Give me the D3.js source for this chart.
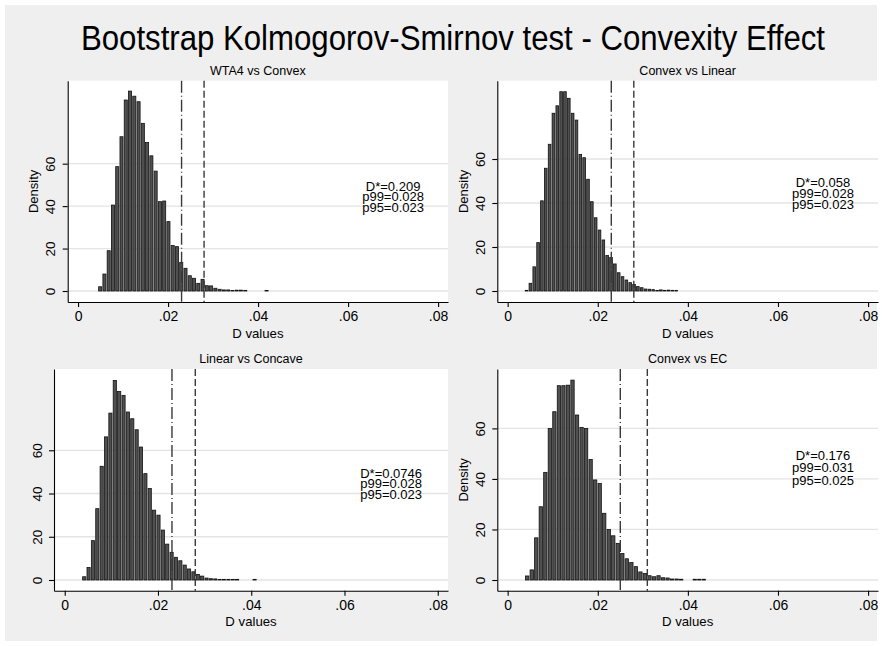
<!DOCTYPE html>
<html>
<head>
<meta charset="utf-8">
<script src="https://cdn.jsdelivr.net/npm/d3@7"></script>
<style>
  body { margin: 0; background: #fff; }
  svg { display: block; font-family: "Liberation Sans", Arial, Helvetica, sans-serif; }
</style>
</head>
<body>
<svg id="mysvg" width="882" height="646"></svg>
<script>
// chart values
const mainTitle = "Bootstrap Kolmogorov-Smirnov test - Convexity Effect";
const panelTitles = ["WTA4 vs Convex", "Convex vs Linear", "Linear vs Concave", "Convex vs EC"];

// histogram bins: left edge of the first bin, bin width, density per bin (40 bins)
const binStart = [0.00444, 0.00377, 0.00371, 0.00384];
const binWidth = [0.000948, 0.000852, 0.000937, 0.001005];

const densWTA4Convex = [2.0, 8.0, 19.0, 40.5, 58.6, 72.7, 90.0, 94.2, 91.8, 89.2,
  79.0, 70.0, 63.7, 56.5, 42.1, 42.4, 32.7, 21.4, 20.9, 13.5,
  10.7, 7.2, 6.0, 3.6, 5.5, 2.5, 2.4, 1.3, 0.8, 0.5,
  0.5, 0.2, 0.4, 0.4, 0.3, 0, 0, 0, 0, 0.2];
const densConvexLinear = [0.3, 3.5, 11, 22, 41, 55.8, 66.7, 80.8, 84.2, 90.6,
  90.6, 87.6, 80.8, 77.7, 62.1, 60.6, 50.8, 40.6, 33.3, 27.7,
  23.2, 16.1, 15.2, 12.3, 8.3, 6.5, 5.0, 3.8, 3.0, 2.0,
  1.5, 0.9, 0.8, 0.6, 0.2, 0.5, 0.3, 0.4, 0.3, 0.3];
const densLinearConcave = [1.5, 5.8, 18.2, 33, 52.6, 66.2, 77.2, 92.3, 87.2, 85.4,
  77.7, 74.6, 69.5, 61.5, 49.2, 42.3, 32.3, 30, 23.1, 16.6,
  12.8, 10.5, 8.9, 6.9, 5.1, 3.8, 2.6, 1.8, 0.9, 0.6,
  0.5, 0.2, 0.3, 0.3, 0.3, 0.3, 0, 0, 0, 0.3];
const densConvexEC = [1.6, 4.0, 16.7, 29, 42.6, 60, 66.6, 76.9, 76.9, 77.1,
  79.1, 65.3, 60.4, 60, 47.7, 39.6, 38.2, 26.4, 20, 17.5,
  14.5, 10.5, 8.4, 6.9, 5.3, 3.2, 2.6, 1.7, 1.3, 1.7,
  0.9, 0.8, 0.4, 0.4, 0.3, 0, 0, 0.3, 0.3, 0.3];
const densities = [densWTA4Convex, densConvexLinear, densLinearConcave, densConvexEC];

const p95 = [0.023, 0.023, 0.023, 0.025];
const p99 = [0.028, 0.028, 0.028, 0.031];
const dStar = ["0.209", "0.058", "0.0746", "0.176"];

const xTicks = [0, 0.02, 0.04, 0.06, 0.08];
const xTickLabels = ["0", ".02", ".04", ".06", ".08"];
const yTicks = [0, 20, 40, 60];
const xDomain = [-0.0023, 0.0822];
const yDomains = [[-5.18, 99.1], [-5.0, 95.6], [-4.95, 97.6], [-4.23, 83.5]];
const hasYTitle = [true, true, false, true];

// layout of the four plot regions (pixels)
const panelBoxes = [
  {left: 67.7, right: 448, top: 80.7, bottom: 302},
  {left: 497.3, right: 878, top: 80.7, bottom: 302},
  {left: 54, right: 448, top: 369, bottom: 590.7},
  {left: 497.3, right: 878, top: 369, bottom: 590.7}
];

function drawPanel(svg, i) {
  var box = panelBoxes[i];
  var g = svg.append('g');
  var x = d3.scaleLinear().domain(xDomain).range([box.left, box.right]);
  var y = d3.scaleLinear().domain(yDomains[i]).range([box.bottom, box.top]);

  g.append('rect')
    .attr('x', box.left).attr('y', box.top)
    .attr('width', box.right - box.left).attr('height', box.bottom - box.top)
    .attr('fill', '#fff');

  // horizontal grid
  g.selectAll('line.grid').data(yTicks).enter()
    .append('line')
    .attr('class', 'grid')
    .attr('x1', box.left).attr('x2', box.right)
    .attr('y1', function(d) { return y(d) })
    .attr('y2', function(d) { return y(d) })
    .attr('stroke', '#e4e4e4')
    .attr('stroke-width', 1.3);

  var bins = densities[i].map(function(d, k) {
    return {x0: binStart[i] + k * binWidth[i], x1: binStart[i] + (k + 1) * binWidth[i], h: d};
  }).filter(function(b) { return b.h > 0 });

  g.selectAll('rect.bar').data(bins).enter()
    .append('rect')
    .attr('class', 'bar')
    .attr('x', function(d) { return x(d.x0) + 0.6 })
    .attr('width', function(d) { return x(d.x1) - x(d.x0) - 1.2 })
    .attr('y', function(d) { return y(d.h) })
    .attr('height', function(d) { return y(0) - y(d.h) })
    .attr('fill', '#505050')
    .attr('stroke', '#111')
    .attr('stroke-width', 0.8);

  // p95 (dash-dot) and p99 (dashed) reference lines
  g.append('line')
    .attr('x1', x(p95[i])).attr('x2', x(p95[i]))
    .attr('y1', box.top).attr('y2', box.bottom)
    .attr('stroke', '#3a3a3a').attr('stroke-width', 1.4)
    .attr('stroke-dasharray', '12,3,1,3');
  g.append('line')
    .attr('x1', x(p99[i])).attr('x2', x(p99[i]))
    .attr('y1', box.top).attr('y2', box.bottom)
    .attr('stroke', '#3a3a3a').attr('stroke-width', 1.4)
    .attr('stroke-dasharray', '7,3');

  // axes
  var xAxis = g.append('g')
    .attr('transform', 'translate(0,' + box.bottom + ')')
    .call(d3.axisBottom(x).tickValues(xTicks)
      .tickFormat(function(d, k) { return xTickLabels[k] })
      .tickSize(5).tickSizeOuter(0).tickPadding(4));
  xAxis.selectAll('text').attr('font-size', 14).attr('fill', '#000')
    .attr('font-family', '"Liberation Sans", Arial, sans-serif');

  var yAxis = g.append('g')
    .attr('transform', 'translate(' + box.left + ',0)')
    .call(d3.axisLeft(y).tickValues(yTicks).tickSize(5).tickSizeOuter(0));
  yAxis.selectAll('text')
    .attr('x', 0).attr('y', 0).attr('dy', 0)
    .attr('text-anchor', 'middle')
    .attr('transform', 'translate(-12.5,0) rotate(-90)')
    .attr('font-size', 13.5).attr('fill', '#000')
    .attr('font-family', '"Liberation Sans", Arial, sans-serif');

  [xAxis, yAxis].forEach(function(a) {
    a.selectAll('path, line').attr('stroke', '#000').attr('stroke-width', 1.1);
  });

  // titles
  var cx = (box.left + box.right) / 2;
  g.append('text')
    .attr('x', cx).attr('y', box.top - 5.7)
    .attr('text-anchor', 'middle').attr('font-size', 12.5)
    .text(panelTitles[i]);
  g.append('text')
    .attr('x', cx).attr('y', box.bottom + 35.5)
    .attr('text-anchor', 'middle').attr('font-size', 13.2)
    .text('D values');
  if (hasYTitle[i]) {
    var cy = (box.top + box.bottom) / 2;
    g.append('text')
      .attr('transform', 'translate(' + (box.left - 29.5) + ',' + cy + ') rotate(-90)')
      .attr('text-anchor', 'middle').attr('font-size', 13)
      .text('Density');
  }

  // annotation
  var notes = ['D*=' + dStar[i], 'p99=' + p99[i].toFixed(3), 'p95=' + p95[i].toFixed(3)];
  var noteY = [49.5, 44.5, 39.5];
  g.selectAll('text.note').data(notes).enter()
    .append('text')
    .attr('class', 'note')
    .attr('x', x(0.07))
    .attr('y', function(d, k) { return y(noteY[k]) })
    .attr('dy', '0.36em')
    .attr('text-anchor', 'middle')
    .attr('font-size', 13)
    .text(function(d) { return d });
}

var svg = d3.select('#mysvg');
svg.append('rect')
  .attr('x', 5).attr('y', 5).attr('width', 872).attr('height', 636)
  .attr('fill', '#efefef');

svg.append('text')
  .attr('x', 453).attr('y', 50)
  .attr('text-anchor', 'middle')
  .attr('font-size', 35)
  .attr('textLength', 744)
  .attr('lengthAdjust', 'spacingAndGlyphs')
  .text(mainTitle);

for (var i = 0; i < 4; i++) drawPanel(svg, i);
</script>
</body>
</html>
